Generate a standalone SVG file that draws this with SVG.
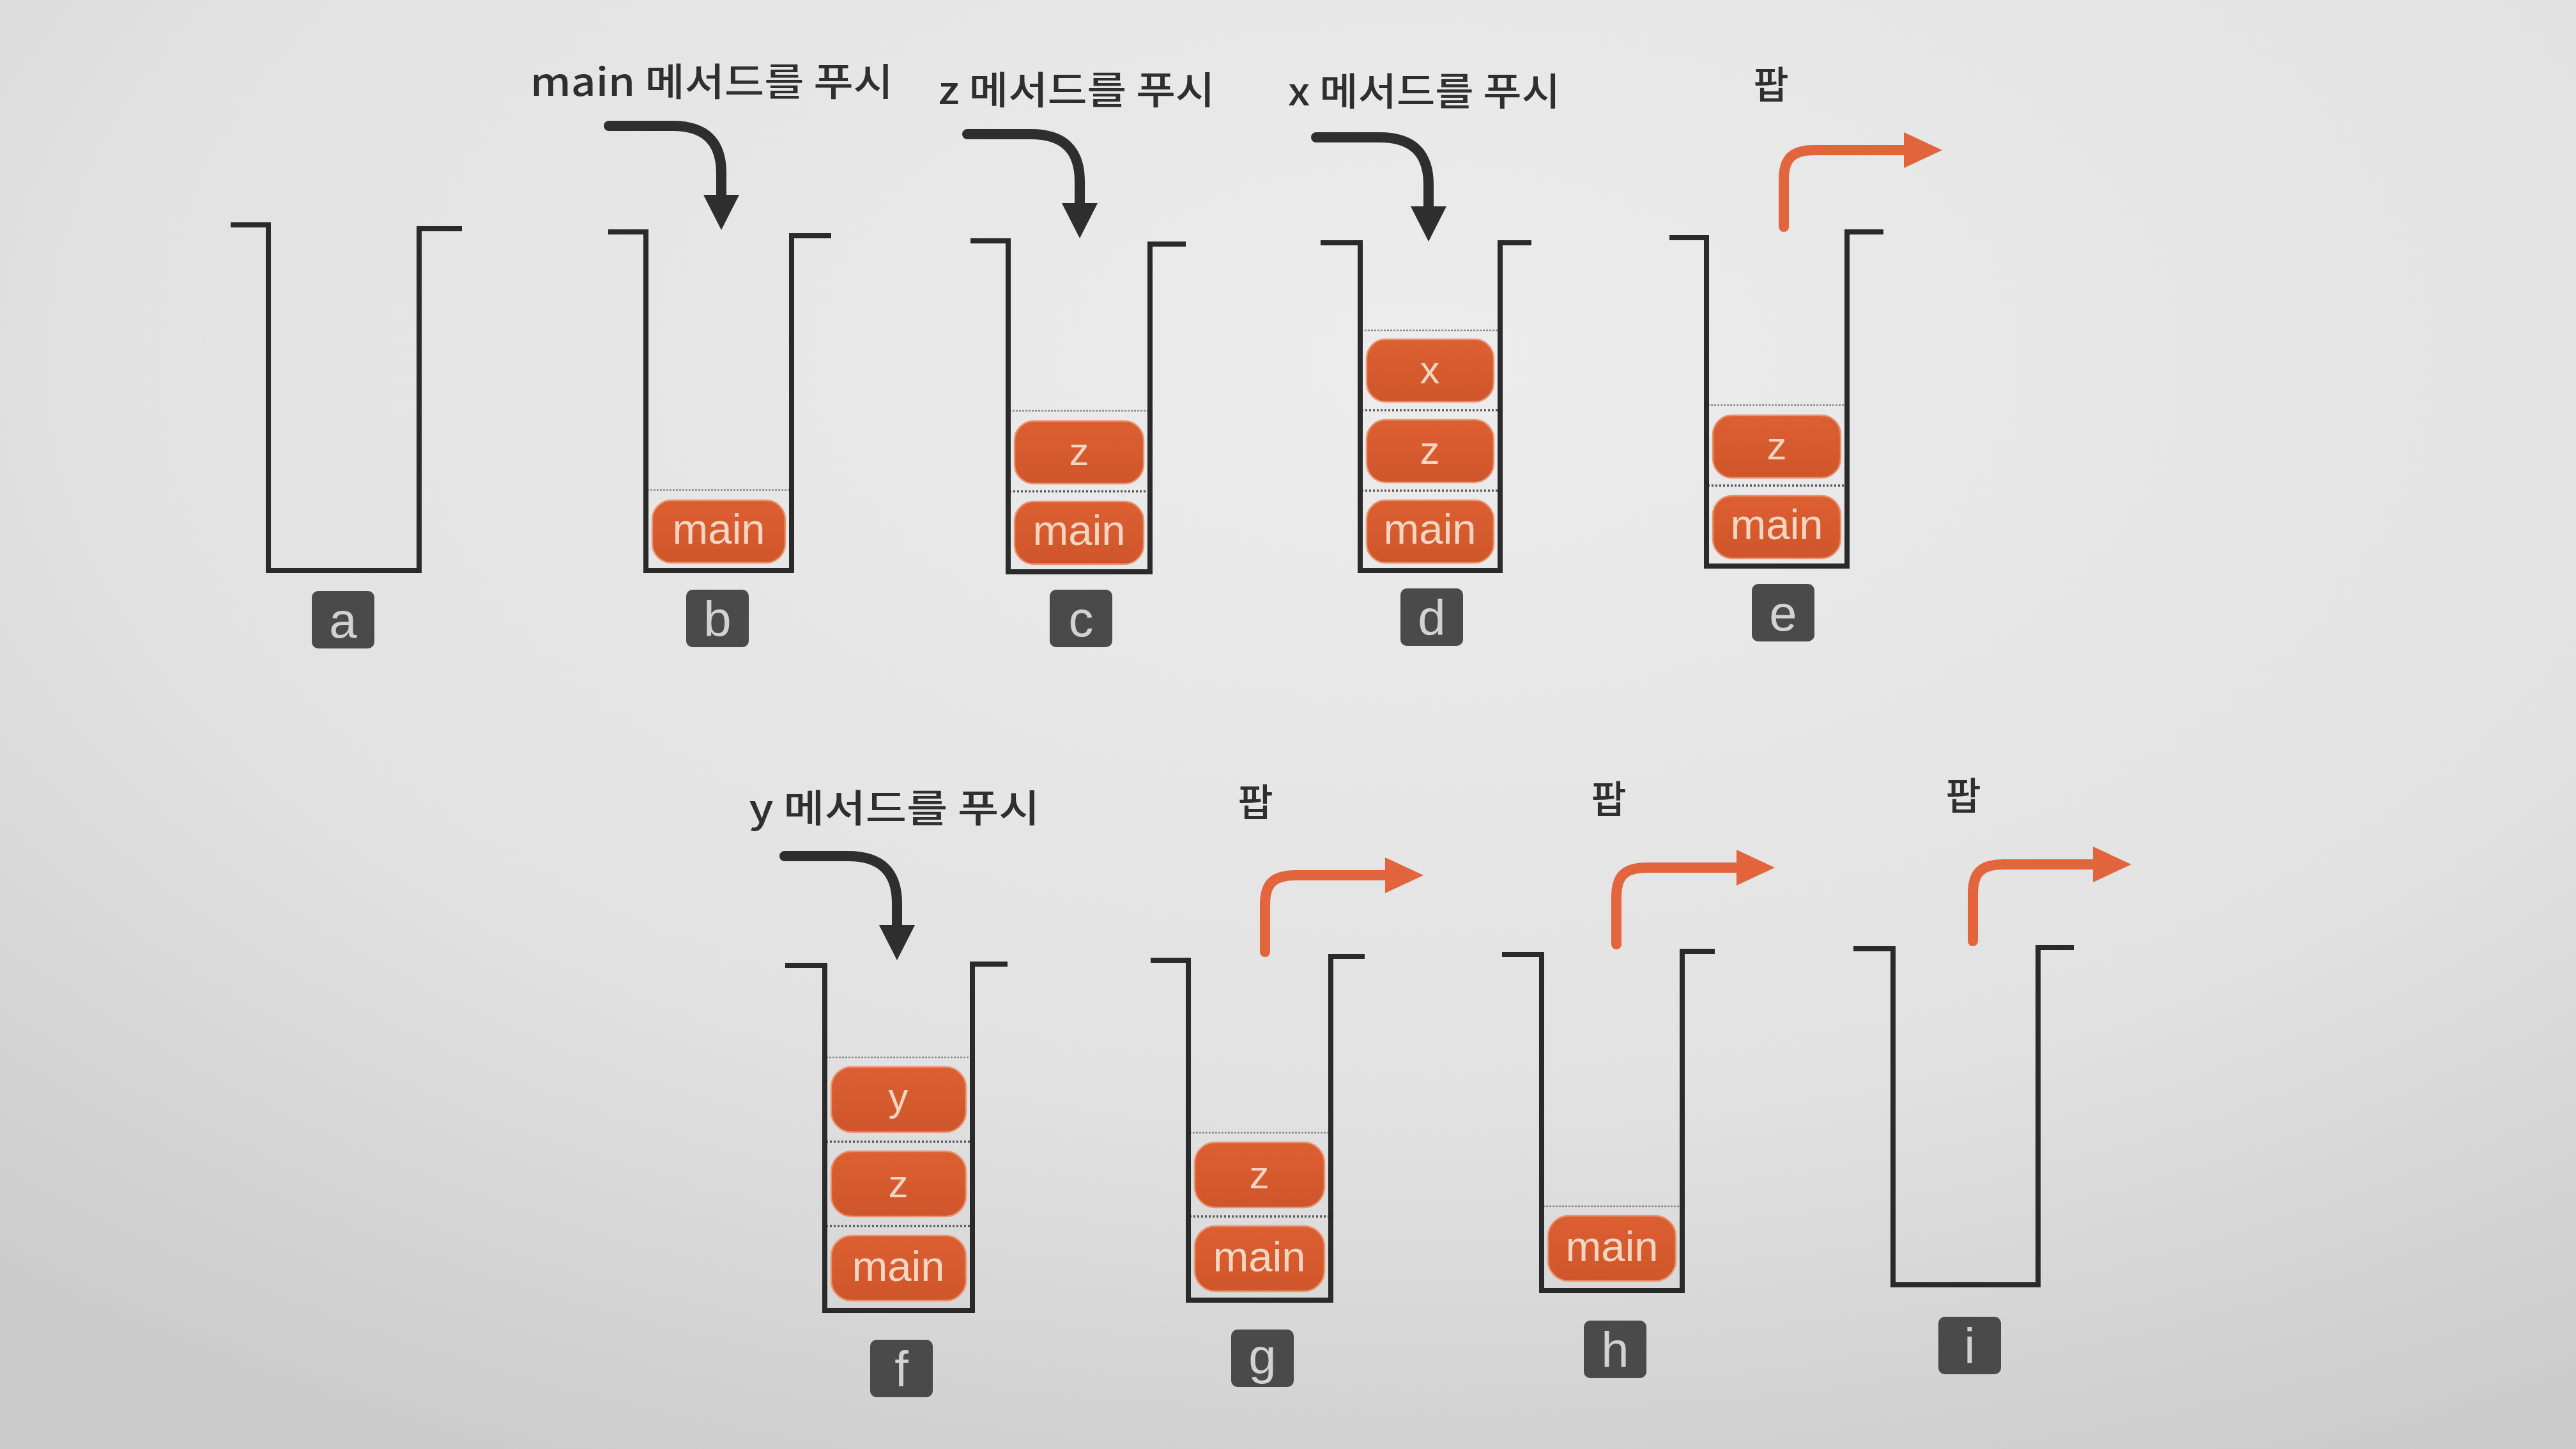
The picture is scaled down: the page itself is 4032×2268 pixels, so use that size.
<svg xmlns="http://www.w3.org/2000/svg" xmlns:xlink="http://www.w3.org/1999/xlink" width="4032" height="2268" viewBox="0 0 4032 2268">
<defs>
  <radialGradient id="bg" cx="0.55" cy="0.25" r="0.85">
    <stop offset="0" stop-color="#ececec"/>
    <stop offset="0.6" stop-color="#e2e2e2"/>
    <stop offset="1" stop-color="#cbcbcb"/>
  </radialGradient>
  <linearGradient id="blk" x1="0" y1="0" x2="0" y2="1">
    <stop offset="0" stop-color="#dc5f31"/>
    <stop offset="1" stop-color="#cf562b"/>
  </linearGradient>
  <g id="push">
    <path d="M0,0 H100 C150,0 176,24 176,74 V112" class="pushl"/>
    <polygon points="148,108 204,108 176,163" class="pushh"/>
  </g>
  <g id="pop">
    <path d="M0,0 V-74 C0,-106 12,-120 48,-120 H192" class="popl"/>
    <polygon points="188,-148 188,-92 248,-120" class="poph"/>
  </g>
</defs>
<style>
  .wall{fill:none;stroke:#2a2a2a;stroke-width:8;stroke-linejoin:miter}
  .blk{fill:url(#blk);stroke:#e99370;stroke-width:2.5}
  .bt{font-family:'Liberation Sans',Arial,sans-serif;font-size:67px;fill:#f6d6c3;text-anchor:middle}
  .bs{font-family:'Liberation Sans',Arial,sans-serif;font-size:62px;fill:#f6d6c3;text-anchor:middle}
  .lbl{fill:#4a4a4a}
  .lt{font-family:'Liberation Sans',Arial,sans-serif;font-size:78px;fill:#d2d2d2;text-anchor:middle}
  .hd{font-family:'Noto Sans CJK KR','Noto Sans',sans-serif;font-size:60px;font-weight:500;fill:#2f2f2f;text-anchor:middle}
  .top{stroke:#8a8a8a;stroke-width:2.5;stroke-dasharray:3 2}
  .sep{stroke:#5a5a5a;stroke-width:3.5;stroke-dasharray:3 3}
  .pushl{fill:none;stroke:#2e2e2e;stroke-width:16;stroke-linecap:round}
  .pushh{fill:#2e2e2e}
  .popl{fill:none;stroke:#e2653e;stroke-width:16;stroke-linecap:round}
  .poph{fill:#e2653e}
</style>
<rect x="0" y="0" width="4032" height="2268" fill="url(#bg)"/>

<g id="texts">
  <text class="hd" x="1114" y="150" textLength="568" lengthAdjust="spacingAndGlyphs">main 메서드를 푸시</text>
  <text class="hd" x="1685" y="163" textLength="433" lengthAdjust="spacingAndGlyphs">z 메서드를 푸시</text>
  <text class="hd" x="2229" y="165" textLength="426" lengthAdjust="spacingAndGlyphs">x 메서드를 푸시</text>
  <text class="hd" x="2772" y="155">팝</text>
  <text class="hd" x="1400" y="1287" textLength="455" lengthAdjust="spacingAndGlyphs">y 메서드를 푸시</text>
  <text class="hd" x="1965" y="1278">팝</text>
  <text class="hd" x="2518" y="1273">팝</text>
  <text class="hd" x="3073" y="1268">팝</text>
</g>

<g id="connectors">
  <use xlink:href="#push" href="#push" transform="translate(953,197)"/>
  <use xlink:href="#push" href="#push" transform="translate(1514,210)"/>
  <use xlink:href="#push" href="#push" transform="translate(2060,215)"/>
  <use xlink:href="#push" href="#push" transform="translate(1228,1340)"/>
  <use xlink:href="#pop" href="#pop" transform="translate(2792,355)"/>
  <use xlink:href="#pop" href="#pop" transform="translate(1980,1490)"/>
  <use xlink:href="#pop" href="#pop" transform="translate(2530,1478)"/>
  <use xlink:href="#pop" href="#pop" transform="translate(3088,1473)"/>
</g>

<g id="stack-a">
  <polyline class="wall" points="361,352 420,352 420,893 656,893 656,358 723,358"/>
  <rect class="lbl" x="488" y="925" width="98" height="90" rx="10"/>
  <text class="lt" x="537" y="998">a</text>
</g>

<g id="stack-b">
  <line class="top" x1="1013" y1="767" x2="1237" y2="767"/>
  <rect class="blk" x="1021" y="783" width="208" height="98" rx="30"/>
  <text class="bt" x="1125" y="851">main</text>
  <polyline class="wall" points="952,363 1011,363 1011,893 1239,893 1239,369 1301,369"/>
  <rect class="lbl" x="1074" y="923" width="98" height="90" rx="10"/>
  <text class="lt" x="1123" y="996">b</text>
</g>

<g id="stack-c">
  <line class="top" x1="1580" y1="643" x2="1798" y2="643"/>
  <line class="sep" x1="1580" y1="769" x2="1798" y2="769"/>
  <rect class="blk" x="1588" y="659" width="202" height="98" rx="30"/>
  <text class="bs" x="1689" y="728">z</text>
  <rect class="blk" x="1588" y="785" width="202" height="98" rx="30"/>
  <text class="bt" x="1689" y="853">main</text>
  <polyline class="wall" points="1519,377 1578,377 1578,895 1800,895 1800,382 1856,382"/>
  <rect class="lbl" x="1643" y="923" width="98" height="90" rx="10"/>
  <text class="lt" x="1692" y="996">c</text>
</g>

<g id="stack-d">
  <line class="top" x1="2131" y1="517" x2="2346" y2="517"/>
  <line class="sep" x1="2131" y1="642" x2="2346" y2="642"/>
  <line class="sep" x1="2131" y1="768" x2="2346" y2="768"/>
  <rect class="blk" x="2139" y="531" width="199" height="98" rx="30"/>
  <text class="bs" x="2238" y="600">x</text>
  <rect class="blk" x="2139" y="657" width="199" height="98" rx="30"/>
  <text class="bs" x="2238" y="726">z</text>
  <rect class="blk" x="2139" y="783" width="199" height="98" rx="30"/>
  <text class="bt" x="2238" y="851">main</text>
  <polyline class="wall" points="2067,380 2129,380 2129,893 2348,893 2348,380 2397,380"/>
  <rect class="lbl" x="2192" y="921" width="98" height="90" rx="10"/>
  <text class="lt" x="2241" y="994">d</text>
</g>

<g id="stack-e">
  <line class="top" x1="2673" y1="634" x2="2889" y2="634"/>
  <line class="sep" x1="2673" y1="760" x2="2889" y2="760"/>
  <rect class="blk" x="2681" y="650" width="200" height="98" rx="30"/>
  <text class="bs" x="2781" y="719">z</text>
  <rect class="blk" x="2681" y="776" width="200" height="98" rx="30"/>
  <text class="bt" x="2781" y="844">main</text>
  <polyline class="wall" points="2613,372 2671,372 2671,886 2891,886 2891,363 2948,363"/>
  <rect class="lbl" x="2742" y="914" width="98" height="90" rx="10"/>
  <text class="lt" x="2791" y="987">e</text>
</g>

<g id="stack-f">
  <line class="top" x1="1293" y1="1655" x2="1520" y2="1655"/>
  <line class="sep" x1="1293" y1="1787" x2="1520" y2="1787"/>
  <line class="sep" x1="1293" y1="1919" x2="1520" y2="1919"/>
  <rect class="blk" x="1301" y="1670" width="211" height="102" rx="32"/>
  <text class="bs" x="1406" y="1738">y</text>
  <rect class="blk" x="1301" y="1802" width="211" height="102" rx="32"/>
  <text class="bs" x="1406" y="1874">z</text>
  <rect class="blk" x="1301" y="1934" width="211" height="102" rx="32"/>
  <text class="bt" x="1406" y="2005">main</text>
  <polyline class="wall" points="1229,1511 1291,1511 1291,2051 1522,2051 1522,1509 1577,1509"/>
  <rect class="lbl" x="1362" y="2097" width="98" height="90" rx="10"/>
  <text class="lt" x="1411" y="2170">f</text>
</g>

<g id="stack-g">
  <line class="top" x1="1862" y1="1773" x2="2081" y2="1773"/>
  <line class="sep" x1="1862" y1="1904" x2="2081" y2="1904"/>
  <rect class="blk" x="1870" y="1788" width="203" height="102" rx="32"/>
  <text class="bs" x="1971" y="1860">z</text>
  <rect class="blk" x="1870" y="1919" width="203" height="102" rx="32"/>
  <text class="bt" x="1971" y="1990">main</text>
  <polyline class="wall" points="1801,1503 1860,1503 1860,2035 2083,2035 2083,1497 2136,1497"/>
  <rect class="lbl" x="1927" y="2081" width="98" height="90" rx="10"/>
  <text class="lt" x="1976" y="2150">g</text>
</g>

<g id="stack-h">
  <line class="top" x1="2415" y1="1888" x2="2631" y2="1888"/>
  <rect class="blk" x="2423" y="1903" width="200" height="102" rx="32"/>
  <text class="bt" x="2523" y="1974">main</text>
  <polyline class="wall" points="2351,1494 2413,1494 2413,2020 2633,2020 2633,1489 2684,1489"/>
  <rect class="lbl" x="2479" y="2067" width="98" height="90" rx="10"/>
  <text class="lt" x="2528" y="2140">h</text>
</g>

<g id="stack-i">
  <polyline class="wall" points="2901,1485 2963,1485 2963,2011 3190,2011 3190,1483 3246,1483"/>
  <rect class="lbl" x="3034" y="2061" width="98" height="90" rx="10"/>
  <text class="lt" x="3083" y="2134">i</text>
</g>
</svg>
